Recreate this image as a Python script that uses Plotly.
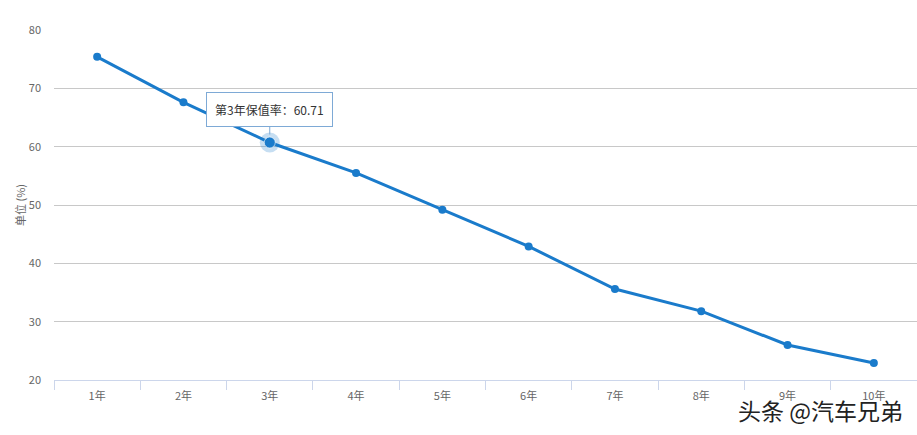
import plotly.graph_objects as go

categories = ["1年", "2年", "3年", "4年", "5年", "6年", "7年", "8年", "9年", "10年"]
values = [75.4, 67.6, 60.71, 55.5, 49.2, 42.9, 35.6, 31.8, 26.0, 22.9]
highlight_index = 2
y_ticks = [20, 30, 40, 50, 60, 70, 80]

line_color = "#1a7bcb"
font_cjk = "Noto Sans CJK SC"

fig = go.Figure()
fig.add_trace(go.Scatter(
    x=categories, y=values, mode="lines+markers",
    line=dict(color=line_color, width=3),
    marker=dict(color=line_color, size=8),
    hoverinfo="skip",
))
hx = [categories[highlight_index]]
hy = [values[highlight_index]]
fig.add_trace(go.Scatter(
    x=hx, y=hy, mode="markers",
    marker=dict(color="rgba(26,123,203,0.25)", size=20),
    hoverinfo="skip",
))
fig.add_trace(go.Scatter(
    x=hx, y=hy, mode="markers",
    marker=dict(color=line_color, size=11, line=dict(color="rgba(255,255,255,0.6)", width=1)),
    hoverinfo="skip",
))

fig.add_annotation(
    x=categories[highlight_index], y=values[highlight_index],
    text="第3年保值率：" + f"{values[highlight_index]:.2f}",
    showarrow=True, ax=0, ay=-33, arrowhead=0, arrowwidth=1,
    arrowcolor="#7eaad6", standoff=8,
    bgcolor="white", bordercolor="#7eaad6", borderwidth=1, borderpad=8,
    font=dict(family=font_cjk, size=12, color="#333333"),
)

fig.add_annotation(
    xref="paper", yref="paper", x=0.986, y=-0.086,
    xanchor="right", yanchor="middle",
    text="头条 @汽车兄弟", showarrow=False,
    font=dict(family=font_cjk, size=23, color="#222222"),
)

fig.update_layout(
    width=917, height=435,
    margin=dict(l=54, r=0, t=30, b=55),
    paper_bgcolor="white", plot_bgcolor="white",
    showlegend=False,
    font=dict(family=font_cjk, size=11, color="#666666"),
)
fig.update_xaxes(
    type="category", range=[-0.5, len(categories) - 0.5],
    tickson="boundaries", ticks="outside", ticklen=9, tickcolor="#ccd6eb",
    showline=True, linecolor="#ccd6eb", linewidth=1, ticklabelstandoff=6,
    showgrid=False, tickfont=dict(size=11, color="#666666"),
)
fig.update_yaxes(
    range=[20, 80], tickvals=y_ticks, showgrid=True, gridcolor="#c8c8c8",
    zeroline=False, showline=False, ticks="", ticklabelstandoff=12,
    tickfont=dict(size=11, color="#666666"),
    title=dict(text="单位 (%)", standoff=0, font=dict(size=11, color="#666666")),
)

fig.write_html("out.html", config={"displayModeBar": False},
               post_script="document.body.style.margin='0';")
